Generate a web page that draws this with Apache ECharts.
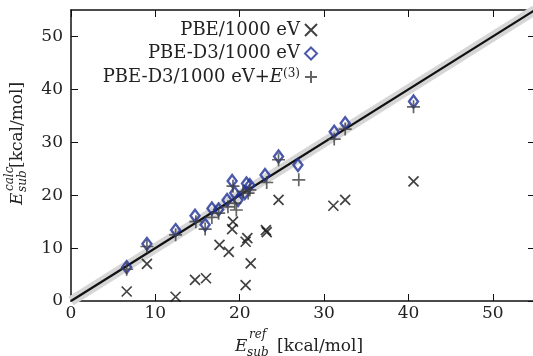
<!DOCTYPE html>
<html>
<head>
<meta charset="utf-8">
<script src="https://cdn.jsdelivr.net/npm/echarts@6/dist/echarts.min.js"></script>
<style>html,body{margin:0;padding:0;background:#fff}#c{width:533px;height:356px}</style>
</head>
<body>
<div id="c"></div>
<script>
// Data
const axisTicks = [0, 10, 20, 30, 40, 50];
const refPBE  = [6.6, 9.0, 12.4, 14.7, 16.0, 17.6, 18.7, 19.1, 19.2, 20.7, 20.7, 20.9, 21.3, 23.1, 23.2, 24.6, 31.1, 32.5, 40.6];
const calcPBE = [1.8, 7.0, 0.8, 4.0, 4.3, 10.6, 9.3, 13.6, 15.0, 3.0, 11.2, 11.9, 7.1, 13.4, 13.0, 19.1, 18.0, 19.1, 22.6];
const refD3   = [6.6, 9.0, 12.4, 14.7, 15.9, 16.7, 17.5, 18.5, 19.1, 19.4, 19.8, 20.6, 20.8, 21.2, 23.0, 24.6, 26.9, 31.2, 32.5, 40.6];
const calcD3  = [6.4, 10.8, 13.4, 16.1, 14.4, 17.5, 17.3, 19.1, 22.7, 20.4, 19.1, 20.4, 22.2, 21.9, 23.8, 27.3, 25.7, 32.0, 33.6, 37.7];
const refD3E3  = [6.6, 9.0, 12.4, 14.8, 15.9, 16.7, 17.5, 18.6, 19.2, 19.4, 19.6, 20.4, 21.0, 21.2, 23.2, 24.6, 27.0, 31.2, 32.5, 40.6];
const calcD3E3 = [6.0, 10.3, 12.5, 15.0, 13.6, 15.8, 16.6, 17.8, 21.7, 18.5, 17.2, 20.7, 20.4, 21.0, 22.4, 26.7, 22.9, 30.6, 32.5, 36.7];
const diagLine = [0, 55];

const FONT = 'DejaVu Serif';
const zip = (a, b) => a.map((v, i) => [v, b[i]]);

const chart = echarts.init(document.getElementById('c'), null, {renderer: 'canvas'});

const axisCommon = (pos, showLabel) => ({
  type: 'value', min: 0, max: 55, interval: 10, position: pos,
  axisLine: {show: true, onZero: false, lineStyle: {color: '#111', width: 1.5}},
  axisTick: {show: true, inside: true, length: 7, lineStyle: {color: '#111', width: 1}},
  splitLine: {show: false},
  axisLabel: {show: showLabel, showMaxLabel: false, fontFamily: FONT, fontSize: 17, color: '#222'}
});

const xBottom = axisCommon('bottom', true); xBottom.axisLabel.margin = 4;
const yLeft = axisCommon('left', true); yLeft.axisLabel.margin = 8;
const xTop = axisCommon('top', false);
const yRight = axisCommon('right', false);

const sub = {fontFamily: FONT, fontStyle: 'italic', fontSize: 12, fill: '#222', align: 'left', verticalAlign: 'middle'};
const big = {fontFamily: FONT, fontSize: 17, fill: '#222', align: 'left', verticalAlign: 'middle'};

chart.setOption({
  animation: false,
  textStyle: {fontFamily: FONT},
  grid: {left: 71, top: 10, width: 464, height: 291, outerBoundsMode: 'none', containLabel: false},
  xAxis: [xBottom, xTop],
  yAxis: [yLeft, yRight],
  legend: {
    orient: 'vertical', align: 'right', right: 215, top: 21, padding: 0,
    itemWidth: 12, itemHeight: 12, itemGap: 5.5,
    data: ['PBE/1000 eV', 'PBE-D3/1000 eV', 'PBE-D3/1000 eV+E(3)'],
    formatter: function (name) {
      if (name === 'PBE-D3/1000 eV+E(3)') return '{n|PBE-D3/1000 eV+}{i|E}{s|(3)}';
      return '{n|' + name + '}';
    },
    textStyle: {
      fontFamily: FONT, fontSize: 18, color: '#222',
      rich: {
        n: {fontFamily: FONT, fontSize: 18, color: '#222'},
        i: {fontFamily: FONT, fontSize: 18, fontStyle: 'italic', color: '#222'},
        s: {fontFamily: FONT, fontSize: 12, color: '#222', verticalAlign: 'top'}
      }
    }
  },
  series: [
    {type: 'line', data: zip(diagLine, diagLine), symbol: 'none', silent: true, z: 1,
     lineStyle: {color: '#d6d6d6', width: 10}},
    {type: 'line', data: zip(diagLine, diagLine), symbol: 'none', silent: true, z: 2,
     lineStyle: {color: '#111', width: 2.2}},
    {name: 'PBE/1000 eV', type: 'scatter', z: 3, data: zip(refPBE, calcPBE),
     symbol: 'path://M0,0L10,10M10,0L0,10', symbolSize: 10,
     itemStyle: {color: 'rgba(0,0,0,0)', borderColor: '#111', borderWidth: 1.7}},
    {name: 'PBE-D3/1000 eV', type: 'scatter', z: 4, data: zip(refD3, calcD3),
     symbol: 'diamond', symbolSize: [9, 12],
     itemStyle: {color: 'rgba(0,0,0,0)', borderColor: '#1f2f96', borderWidth: 2.4}},
    {name: 'PBE-D3/1000 eV+E(3)', type: 'scatter', z: 5, data: zip(refD3E3, calcD3E3),
     symbol: 'path://M5,0L5,10M0,5L10,5', symbolSize: 13,
     itemStyle: {color: 'rgba(0,0,0,0)', borderColor: '#3f3f3f', borderWidth: 1.7}}
  ],
  graphic: [
    // x-axis title
    {type: 'text', x: 235, y: 347, style: Object.assign({}, big, {text: 'E', fontStyle: 'italic'})},
    {type: 'text', x: 249, y: 335, style: Object.assign({}, sub, {text: 'ref'})},
    {type: 'text', x: 247, y: 353, style: Object.assign({}, sub, {text: 'sub'})},
    {type: 'text', x: 277, y: 347, style: Object.assign({}, big, {text: '[kcal/mol]'})},
    // y-axis title (rotated)
    {type: 'text', x: 18, y: 205, rotation: Math.PI / 2, style: Object.assign({}, big, {text: 'E', fontStyle: 'italic'})},
    {type: 'text', x: 10, y: 191, rotation: Math.PI / 2, style: Object.assign({}, sub, {text: 'calc'})},
    {type: 'text', x: 23, y: 192, rotation: Math.PI / 2, style: Object.assign({}, sub, {text: 'sub'})},
    {type: 'text', x: 18, y: 168, rotation: Math.PI / 2, style: Object.assign({}, big, {text: '[kcal/mol]'})}
  ]
});
</script>
</body>
</html>
